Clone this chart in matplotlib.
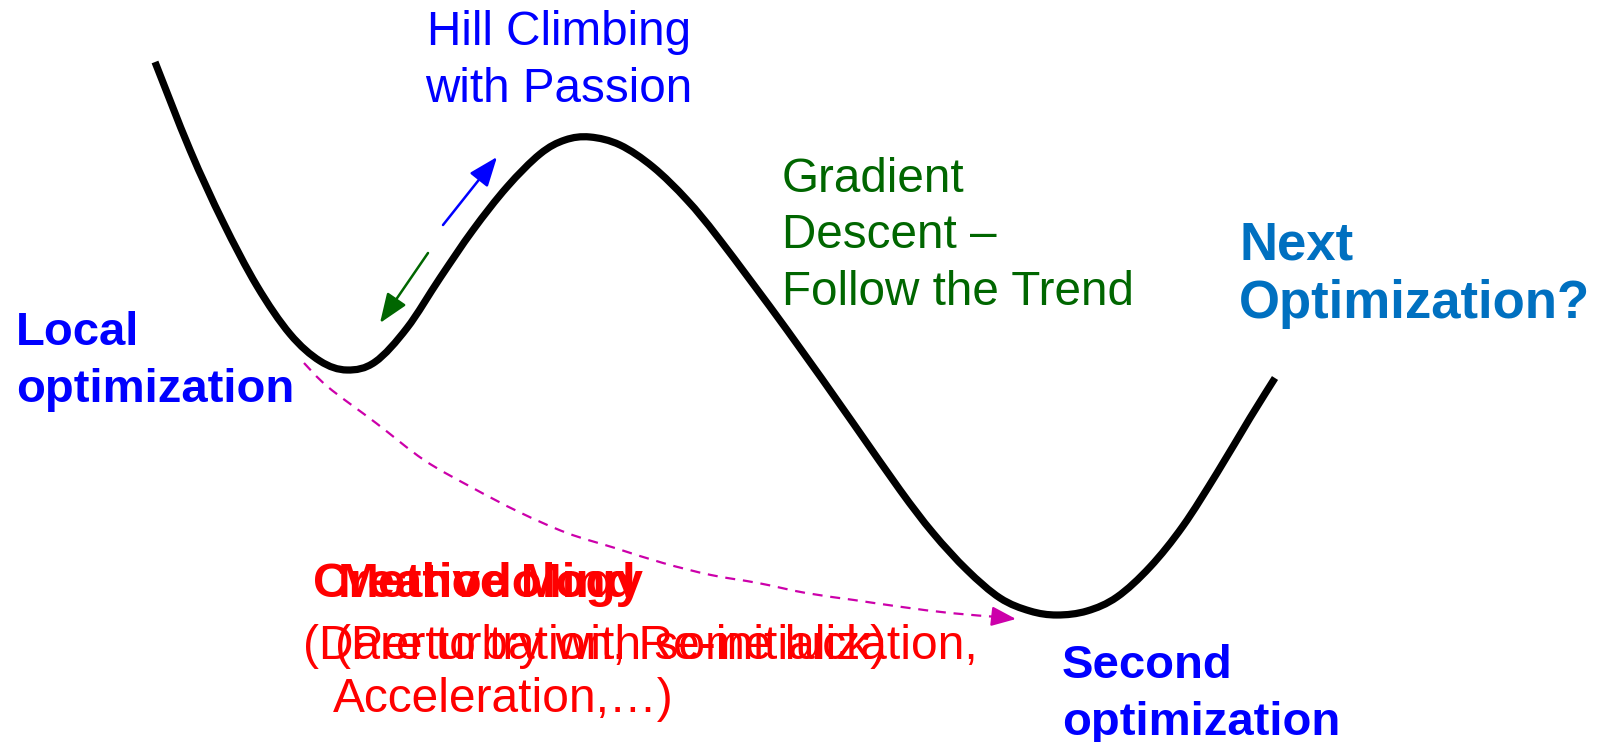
import matplotlib
matplotlib.use("Agg")
import matplotlib.pyplot as plt
from matplotlib.path import Path
from matplotlib.patches import PathPatch

plt.rcParams['font.family'] = ['Liberation Sans', 'DejaVu Sans']

# Landscape curve (pixel-space coordinates)
curve_x = [155, 190, 223, 257, 290, 320, 347, 375, 407, 440, 473, 507, 540, 565, 590,
           620, 653, 687, 720, 787, 853, 900, 933, 967, 1000, 1030, 1057, 1087, 1117,
           1150, 1183, 1217, 1250, 1275]
curve_y = [62, 150, 222, 286, 334, 361, 370, 362, 328, 278, 230, 187, 154, 140, 137,
           145, 167, 200, 240, 330, 423, 490, 533, 570, 598, 611, 615, 611, 597,
           567, 526, 473, 418, 378]

# Dashed jump path (Creative mind / methodology)
jump_x = [304, 328, 376, 424, 471, 519, 567, 615, 663, 711, 758, 806, 854, 902, 950, 998]
jump_y = [363, 387, 423, 460, 487, 512, 533, 548, 563, 575, 583, 593, 600, 607, 613, 617]
jump_tip = (1016, 619)

# Small arrows
climb_arrow = ((443, 225), (497, 157))
descent_arrow = ((428, 253), (380, 323))

# Labels: (text, x, baseline y)
hill_lines = [("Hill Climbing", 427, 45), ("with Passion", 425, 102)]
grad_lines = [("Gradient", 782, 192), ("Descent –", 782, 248), ("Follow the Trend", 782, 305)]
local_lines = [("Local", 16, 345), ("optimization", 16, 402)]
next_lines = [("Next", 1239, 259), ("Optimization?", 1239, 318)]
second_lines = [("Second", 1062, 678), ("optimization", 1062, 735)]
red_bold_lines = [("Creative Mind", 313, 597), ("Methodology", 338, 597)]
red_lines = [("(Dare to try with some luck)", 303, 659),
             ("(Perturbation, Re-initialization,", 335, 659),
             ("Acceleration,…)", 333, 712)]


def smooth_path(xs, ys):
    pts = list(zip(xs, ys))
    n = len(pts)
    verts = [pts[0]]
    codes = [Path.MOVETO]
    for i in range(n - 1):
        p0 = pts[i - 1] if i > 0 else pts[i]
        p1 = pts[i]
        p2 = pts[i + 1]
        p3 = pts[i + 2] if i + 2 < n else pts[i + 1]
        c1 = (p1[0] + (p2[0] - p0[0]) / 6.0, p1[1] + (p2[1] - p0[1]) / 6.0)
        c2 = (p2[0] - (p3[0] - p1[0]) / 6.0, p2[1] - (p3[1] - p1[1]) / 6.0)
        verts += [c1, c2, p2]
        codes += [Path.CURVE4] * 3
    return Path(verts, codes)


fig = plt.figure(figsize=(16.1, 7.42), dpi=100)
ax = fig.add_axes([0, 0, 1, 1])
ax.set_xlim(0, 1610)
ax.set_ylim(742, 0)
ax.axis('off')

ax.add_patch(PathPatch(smooth_path(curve_x, curve_y), facecolor='none',
                       edgecolor='black', lw=5.2, joinstyle='round', capstyle='butt'))

ax.add_patch(PathPatch(smooth_path(jump_x, jump_y), facecolor='none',
                       edgecolor='#CC00AA', lw=1.6, linestyle=(0, (4.5, 3.5))))
ax.annotate('', xy=jump_tip, xytext=(jump_x[-1], jump_y[-1]),
            arrowprops=dict(arrowstyle='-|>,head_length=1.5,head_width=0.6',
                            color='#CC00AA', lw=1.6, shrinkA=0, shrinkB=0))

ax.annotate('', xy=climb_arrow[1], xytext=climb_arrow[0],
            arrowprops=dict(arrowstyle='-|>,head_length=1.8,head_width=0.7',
                            color='#0000FF', lw=1.8, shrinkA=0, shrinkB=0))
ax.annotate('', xy=descent_arrow[1], xytext=descent_arrow[0],
            arrowprops=dict(arrowstyle='-|>,head_length=1.8,head_width=0.7',
                            color='#006600', lw=1.8, shrinkA=0, shrinkB=0))


def put(lines, color, size, weight='normal'):
    for s, x, y in lines:
        ax.text(x, y, s, color=color, fontsize=size, fontweight=weight,
                ha='left', va='baseline')


put(hill_lines, '#0000FF', 34.3)
put(grad_lines, '#006600', 34.3)
put(local_lines, '#0000FF', 34, 'bold')
put(next_lines, '#0070C0', 38, 'bold')
put(second_lines, '#0000FF', 34, 'bold')
put(red_bold_lines, '#FF0000', 35.5, 'bold')
put(red_lines, '#FF0000', 34.5)

fig.savefig('out.png', dpi=100)
